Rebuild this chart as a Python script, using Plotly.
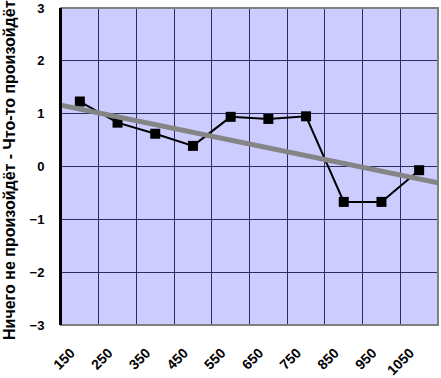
import plotly.graph_objects as go

categories = ["150", "250", "350", "450", "550", "650", "750", "850", "950", "1050"]
values = [1.23, 0.83, 0.62, 0.39, 0.94, 0.90, 0.95, -0.67, -0.67, -0.07]
trend_values = [1.16, -0.31]  # trend line at the left and right plot edges
y_ticks = [-3, -2, -1, 0, 1, 2, 3]
y_title = "Ничего не произойдёт - Что-то произойдёт"

font_family = "Liberation Sans, Arial, sans-serif"
grid_color = "#2b2b5e"

fig = go.Figure()
fig.add_trace(go.Scatter(
    x=[0, 1], y=trend_values, xaxis="x2", yaxis="y",
    mode="lines", line=dict(color="#858585", width=5), hoverinfo="skip", showlegend=False))
fig.add_trace(go.Scatter(
    x=categories, y=values, mode="lines+markers",
    line=dict(color="black", width=2),
    marker=dict(symbol="square", size=10, color="black"),
    showlegend=False))

fig.update_layout(
    width=441, height=378,
    margin=dict(l=61, r=3, t=8, b=53),
    paper_bgcolor="white", plot_bgcolor="#ccccff",
    font=dict(family=font_family, size=12, color="black"),
    xaxis=dict(
        type="category", categoryorder="array", categoryarray=categories,
        range=[-0.5, 9.5], tickson="boundaries", showgrid=True, automargin=False,
        gridcolor=grid_color, gridwidth=1, tickangle=-45,
        ticklabelstandoff=16, ticklabelshift=-9,
        tickfont=dict(family=font_family, size=14, color="black", weight="bold"),
        ticks="", showline=False, zeroline=False),
    xaxis2=dict(overlaying="x", range=[0, 1], visible=False, showgrid=False),
    yaxis=dict(
        range=[-3, 3], tickvals=y_ticks, showgrid=True, gridcolor=grid_color, gridwidth=1,
        zeroline=True, zerolinecolor=grid_color, zerolinewidth=1, automargin=False,
        showline=True, linecolor="black", linewidth=2, ticks="",
        ticklabelstandoff=12,
        tickfont=dict(family=font_family, size=13, color="black", weight="bold")),
)
fig.add_annotation(
    text=y_title, textangle=-90, showarrow=False,
    xref="paper", yref="paper", x=-0.1353, y=0.489, xanchor="center", yanchor="middle",
    font=dict(family=font_family, size=16, color="black", weight="bold"))
fig.add_shape(type="rect", xref="paper", yref="paper", x0=0, x1=1, y0=0, y1=1,
              line=dict(color="#808080", width=2), layer="above")
fig.add_shape(type="line", xref="paper", yref="paper", x0=0, x1=0, y0=0, y1=1,
              line=dict(color="black", width=2), layer="above")

fig.write_html("out.html", config={"displayModeBar": False},
               post_script="document.body.style.margin='0';")
